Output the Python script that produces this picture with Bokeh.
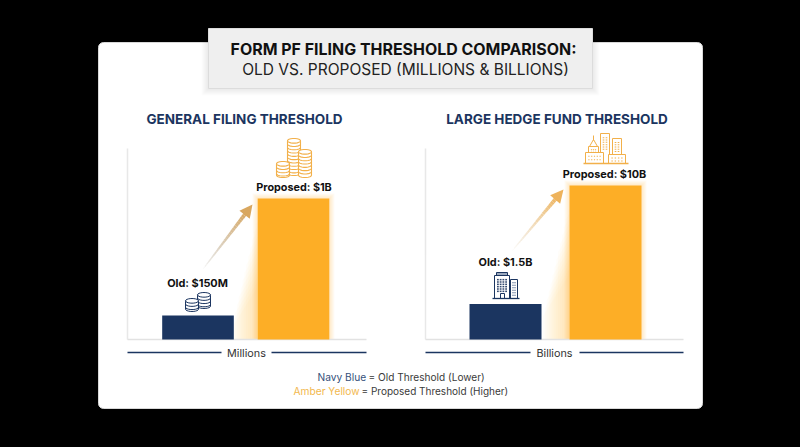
import math
from bokeh.plotting import figure
from bokeh.models import Range1d
from bokeh.embed import file_html
from bokeh.resources import INLINE
from bokeh.core.properties import value

# ---- chart content ----
title_main = "FORM PF FILING THRESHOLD COMPARISON:"
title_sub = "OLD VS. PROPOSED (MILLIONS & BILLIONS)"
panel_titles = ["GENERAL FILING THRESHOLD", "LARGE HEDGE FUND THRESHOLD"]
categories = ["Old", "Proposed"]
general_bars = [170, 1000]     # bar heights as drawn, millions
hedge_bars = [2.3, 10]         # bar heights as drawn, billions
general_labels = ["Old: $150M", "Proposed: $1B"]
hedge_labels = ["Old: $1.5B", "Proposed: $10B"]
unit_labels = ["Millions", "Billions"]

NAVY = "#1b3560"
AMBER = "#fdae26"
ICON_AMBER = "#f2b04a"
FONT = value("Inter")

W, H = 784, 431
p = figure(width=W, height=H, x_range=Range1d(8, 792), y_range=Range1d(439, 8),
           toolbar_location=None, output_backend="svg", min_border=0,
           background_fill_color="#000000", border_fill_color="#000000",
           outline_line_color=None)
p.axis.visible = False
p.grid.visible = False


def text(x, y, s, size, color="#111111", bold=False, align="center"):
    p.text([x], [y], text=[s], text_font=FONT, text_font_size=f"{size}px",
           text_color=color, text_align=align, text_baseline="middle",
           text_font_style="bold" if bold else "normal")


def rounded(x0, y0, x1, y1, r):
    xs, ys = [], []
    for cx, cy, a0 in [(x1-r, y0+r, -90), (x1-r, y1-r, 0), (x0+r, y1-r, 90), (x0+r, y0+r, 180)]:
        for k in range(7):
            a = math.radians(a0 + 15*k)
            xs.append(cx + r*math.cos(a))
            ys.append(cy + r*math.sin(a))
    return xs, ys


def mix(c0, c1, t):
    a = [int(c0[i:i+2], 16) for i in (1, 3, 5)]
    b = [int(c1[i:i+2], 16) for i in (1, 3, 5)]
    return "#%02x%02x%02x" % tuple(round(u+(v-u)*t) for u, v in zip(a, b))


# card
cx, cy = rounded(98, 42, 702, 408, 5)
p.patch(cx, cy, fill_color="#ffffff", line_color="#d8d8d8", line_width=1)

# title box + shadow
for d in range(1, 8):
    p.quad(left=208-d, right=592+d, top=28, bottom=88+d, fill_color="#000000",
           fill_alpha=0.012, line_color=None)
p.quad(left=208, right=592, top=28, bottom=88, fill_color="#efefef", line_color="#dcdcdc")
text(403, 49, title_main, 15.95, "#111111", True)
text(405, 69, title_sub, 15.5, "#222222")


def add_panel(name, values, centres, bar_w, full, full_px, labels, arrow, arrow_cols, ax_x, ax_r,
              gap, unit, unit_x):
    base_px = 339
    unit_x_px = centres[1] - centres[0]
    p.extra_x_ranges[name] = Range1d((8-centres[0])/unit_x_px, (792-centres[0])/unit_x_px)
    k = full_px/full
    p.extra_y_ranges[name] = Range1d((base_px-439)/k, (base_px-8)/k)
    l = centres[1]-bar_w*unit_x_px/2
    r = centres[1]+bar_w*unit_x_px/2
    top = base_px-full_px

    # soft fade between the bars
    for i in range(1, 15):
        d = i*1.9
        ystart = top+18+i*5
        p.patch([l, l-d, l-d, l],
                [ystart, ystart+d*1.6, base_px, base_px],
                fill_color=AMBER, fill_alpha=0.028, line_color=None)
    # glow around proposed bar
    for d in range(1, 6):
        p.quad(left=l-d, right=r+d, top=top-d, bottom=base_px, fill_color=AMBER,
               fill_alpha=0.05, line_color=None)

    # axis lines
    p.line([ax_x, ax_x], [148, base_px], line_color="#e8e8e8", line_width=1.5)
    p.line([ax_x, ax_r], [base_px, base_px], line_color="#e2e2e2", line_width=1.5)

    # bars via own scales
    p.vbar(x=[0, 1], top=values, bottom=0, width=bar_w,
           fill_color=[NAVY, AMBER], line_color=None,
           x_range_name=name, y_range_name=name)

    # unit rule
    p.line([ax_x, gap[0]], [352, 352], line_color=NAVY, line_width=1.6)
    p.line([gap[1], ax_r], [352, 352], line_color=NAVY, line_width=1.6)
    text(unit_x, 353, unit, 10.8, "#333333")

    # gradient arrow
    (x0, y0), (x1, y1) = arrow
    n = 26
    dx, dy = x1-x0, y1-y0
    ln = math.hypot(dx, dy)
    ux, uy = dx/ln, dy/ln
    end = 1-11/ln
    for i in range(n):
        t0, t1 = end*i/n, end*(i+1)/n
        p.line([x0+dx*t0, x0+dx*t1], [y0+dy*t0, y0+dy*t1],
               line_color=mix(arrow_cols[0], arrow_cols[1], i/n),
               line_alpha=0.1+0.9*(i/n)**0.7, line_width=1+3.0*i/n)
    bx, by = x1-ux*13, y1-uy*13
    nx, ny = -uy, ux
    p.patch([x1, bx+nx*6.5, bx-nx*6.5], [y1, by+ny*6.5, by-ny*6.5],
            fill_color=arrow_cols[1], line_color=None)


add_panel("general", general_bars, [197.5, 293], 0.75, 1000, 141, general_labels,
          ((203, 268), (252, 204)), ("#b5b0a6", "#d9a75f"), 127, 366, (221, 271), unit_labels[0], 246)
add_panel("hedge", hedge_bars, [505, 605], 0.72, 10, 154, hedge_labels,
          ((512, 250), (563, 189)), ("#e6d9c2", "#eeb35c"), 425, 683, (530, 579), unit_labels[1], 554)

# panel titles
text(244, 118, panel_titles[0], 13.5, NAVY, True)
text(556.5, 118, panel_titles[1], 13.5, NAVY, True)

# value labels
text(197, 282, general_labels[0], 10.9, "#111111", True)
text(293.5, 187, general_labels[1], 10.8, "#111111", True)
text(505, 261, hedge_labels[0], 10.9, "#111111", True)
text(604, 173, hedge_labels[1], 10.9, "#111111", True)


# coin icons
def coin_stack(x0, x1, ytop, ybot, color, lw, step):
    cx_ = (x0+x1)/2
    rx = (x1-x0)/2
    ry = rx*0.36
    ts = [math.radians(a) for a in range(0, 361, 20)]
    ys_top = ytop+ry
    ys_bot = ybot-ry
    # body
    bx = [x0, x1]+[cx_+rx*math.cos(t) for t in ts[:10]]+[x0]
    by = [ys_top, ys_top]+[ys_bot+ry*math.sin(t) for t in ts[:10]]+[ys_top]
    p.patch(bx, by, fill_color="#ffffff", line_color=color, line_width=lw)
    y = ys_top+step
    while y < ys_bot-0.5:
        p.line([cx_+rx*math.cos(t) for t in ts[:10]], [y+ry*math.sin(t) for t in ts[:10]],
               line_color=color, line_width=lw)
        y += step
    p.patch([cx_+rx*math.cos(t) for t in ts], [ys_top+ry*math.sin(t) for t in ts],
            fill_color="#ffffff", line_color=color, line_width=lw)


coin_stack(287, 300, 138, 175, ICON_AMBER, 1.1, 3.3)
coin_stack(276, 289, 161, 177, ICON_AMBER, 1.1, 3.3)
coin_stack(298, 311, 149, 177, ICON_AMBER, 1.1, 3.3)
coin_stack(197, 210, 292, 308, NAVY, 1.0, 3.2)
coin_stack(185, 198, 298, 311, NAVY, 1.0, 3.2)


# building icons
def box(l, t, r, b, color, lw=1.0, fill="#ffffff"):
    p.quad(left=l, right=r, top=t, bottom=b, fill_color=fill, line_color=color, line_width=lw)


def windows(l, t, r, b, nx, ny, color, w=1.5, h=1.5):
    xs, ys = [], []
    for i in range(nx):
        for j in range(ny):
            xs.append(l+(r-l)*(i+0.5)/nx)
            ys.append(t+(b-t)*(j+0.5)/ny)
    p.rect(xs, ys, width=w, height=h, fill_color=color, line_color=None)


# navy building
box(510, 279, 517, 298, NAVY)
windows(511.5, 281, 515.5, 296, 2, 6, "#50688f", 1.4, 1.2)
box(496, 272, 507, 276, NAVY, fill="#9aa8bd")
box(494, 275, 509, 298, NAVY)
windows(496, 278, 507, 292, 4, 6, "#33496f", 1.8, 1.5)
box(500, 293, 504, 298, NAVY)
p.line([492, 519], [298, 298], line_color=NAVY, line_width=1.3)

# amber skyline
box(600, 133, 609, 163, ICON_AMBER)
windows(601.5, 136, 607.5, 150, 2, 6, ICON_AMBER, 1.6, 1.0)
box(612, 138, 621, 163, ICON_AMBER)
windows(613.5, 141, 619.5, 152, 2, 5, ICON_AMBER, 1.6, 1.0)
box(588, 146, 598, 163, ICON_AMBER)
p.patch([589, 593, 597], [146, 139, 146], fill_color="#ffffff", line_color=ICON_AMBER, line_width=1)
p.line([593, 593], [135, 140], line_color=ICON_AMBER, line_width=1)
windows(590, 148, 596, 153, 3, 2, ICON_AMBER, 1.2, 1.0)
box(585, 152, 603, 163, ICON_AMBER)
windows(587, 154, 601, 161, 5, 2, ICON_AMBER, 1.2, 1.2)
box(608, 154, 625, 163, ICON_AMBER)
windows(610, 156, 623, 162, 4, 2, ICON_AMBER, 1.4, 1.2)
p.line([583, 628], [163, 163], line_color=ICON_AMBER, line_width=1.3)

# legend
text(317, 376, "Navy Blue", 10.2, "#35507a", False, "left")
text(368, 376, "= Old Threshold (Lower)", 10.1, "#3a3a3a", False, "left")
text(293, 390, "Amber Yellow", 10.2, "#f2b84e", False, "left")
text(361, 390, "= Proposed Threshold (Higher)", 10.0, "#3a3a3a", False, "left")

TEMPLATE = """{% block postamble %}<style>html,body{background:#000000;margin:0;}body{padding:8px;box-sizing:border-box;overflow:hidden;}</style>{% endblock %}
"""
open("out.html", "w").write(file_html(p, INLINE, template=TEMPLATE))
